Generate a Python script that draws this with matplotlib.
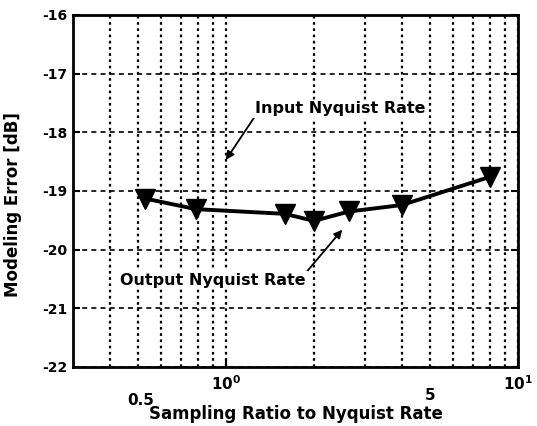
import matplotlib
matplotlib.use("Agg")
import matplotlib.pyplot as plt
from matplotlib.ticker import FixedLocator, NullFormatter
from matplotlib.transforms import blended_transform_factory

# sampling ratio vs. modeling error
ratio = [0.53, 0.79, 1.59, 2.0, 2.64, 4.0, 8.0]
err_db = [-19.13, -19.31, -19.39, -19.51, -19.35, -19.24, -18.76]

yticks = [-22, -21, -20, -19, -18, -17, -16]
xmajor = [1, 10]
xmajor_labels = [r'$\mathbf{10^{0}}$', r'$\mathbf{10^{1}}$']
xminor = [0.4, 0.5, 0.6, 0.7, 0.8, 0.9, 2, 3, 4, 5, 6, 7, 8, 9]

plt.rcParams['font.family'] = ['DejaVu Sans']
plt.rcParams['font.weight'] = 'bold'

fig = plt.figure(figsize=(5.37, 4.26), dpi=100)
ax = fig.add_axes([0.136, 0.1385, 0.829, 0.8265])

ax.plot(ratio, err_db, color='black', lw=2.8, marker='v', ms=14,
        mec='black', mfc='black', zorder=5)

ax.set_xscale('log')
ax.set_xlim(0.3, 10)
ax.set_ylim(-22, -16)
ax.set_yticks(yticks)
ax.set_yticklabels([str(v) for v in yticks])
ax.xaxis.set_major_locator(FixedLocator(xmajor))
ax.set_xticklabels(xmajor_labels)
ax.xaxis.set_minor_locator(FixedLocator(xminor))
ax.xaxis.set_minor_formatter(NullFormatter())

ax.grid(True, which='both', axis='x', linestyle=(0, (1.2, 1.6)), color='black', lw=1.6)
ax.grid(True, which='major', axis='y', linestyle=(0, (3, 2.5)), color='black', lw=1.2)

for s in ax.spines.values():
    s.set_linewidth(2)
ax.tick_params(direction='in', length=5, width=1.5, right=True, top=False,
               labelsize=11, pad=4)
ax.tick_params(axis='y', labelsize=10)
ax.tick_params(axis='x', which='minor', length=0)
ax.tick_params(axis='x', which='major', pad=5)
for lab in ax.get_yticklabels():
    lab.set_fontweight('bold')

trans = blended_transform_factory(ax.transData, ax.transAxes)
ax.text(0.51, -0.094, '0.5', transform=trans, ha='center', va='center',
        fontsize=11, fontweight='bold')
ax.text(5, -0.08, '5', transform=trans, ha='center', va='center',
        fontsize=11, fontweight='bold')

ax.set_xlabel('Sampling Ratio to Nyquist Rate', fontsize=12, fontweight='bold')
ax.xaxis.set_label_coords(0.5, -0.108)
ax.set_ylabel('Modeling Error [dB]', fontsize=12, fontweight='bold')
ax.yaxis.set_label_coords(-0.115, 0.46)

bbox = dict(facecolor='white', edgecolor='none', pad=1)
ax.annotate('Input Nyquist Rate', xy=(1.0, -18.47), xytext=(0.600, 0.733),
            textcoords='axes fraction',
            ha='center', va='center', fontsize=11.5, fontweight='bold', bbox=bbox,
            arrowprops=dict(arrowstyle='-|>', color='black', lw=1.3,
                            shrinkA=0, shrinkB=0, mutation_scale=12,
                            relpos=(0.0, 0.0)))
ax.annotate('Output Nyquist Rate', xy=(2.50, -19.66), xytext=(0.315, 0.247),
            textcoords='axes fraction',
            ha='center', va='center', fontsize=11.5, fontweight='bold', bbox=bbox,
            arrowprops=dict(arrowstyle='-|>', color='black', lw=1.3,
                            shrinkA=0, shrinkB=0, mutation_scale=12,
                            relpos=(1.0, 1.0)))

fig.savefig('out.png', dpi=100)
